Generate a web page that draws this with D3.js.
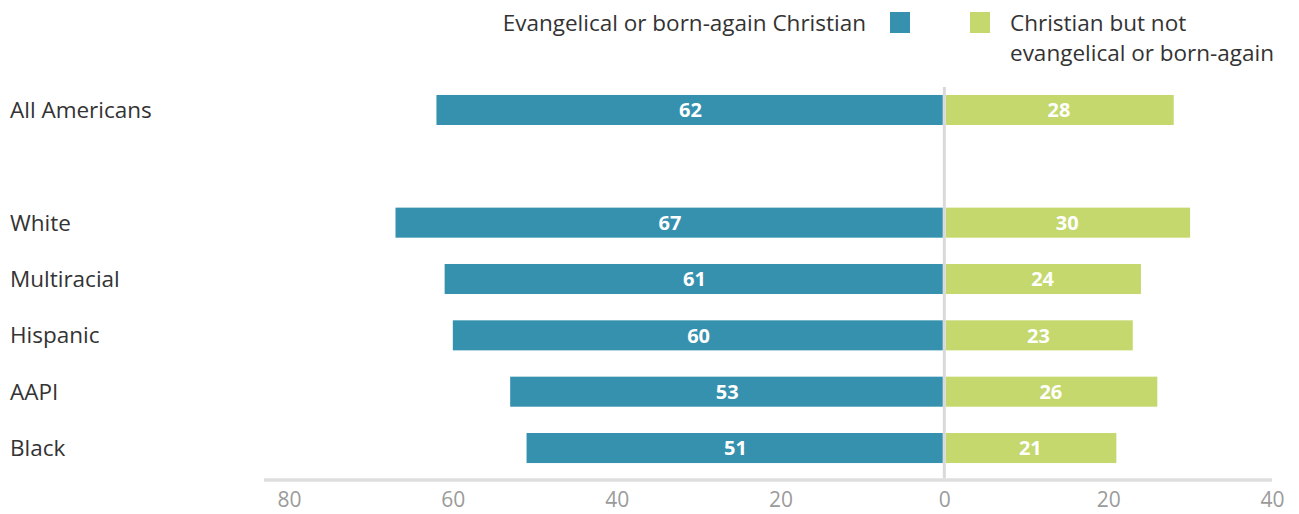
<!DOCTYPE html>
<html>
<head>
<meta charset="utf-8">
<script src="https://cdn.jsdelivr.net/npm/d3@7"></script>
<style>
  html, body { margin: 0; padding: 0; background: #fff; }
  svg { display: block; font-family: "Open Sans", sans-serif; }
</style>
</head>
<body>
<svg id="chart" width="1299" height="514"></svg>
<script>
// Rows, top to bottom; an empty slot separates the overall row from the groups
const groups = ["All Americans", "", "White", "Multiracial", "Hispanic", "AAPI", "Black"];
const evangelical = [62, null, 67, 61, 60, 53, 51];
const nonEvangelical = [28, null, 30, 24, 23, 26, 21];
const tickValues = [-80, -60, -40, -20, 0, 20, 40];
const seriesNames = ["Evangelical or born-again Christian", "Christian but not evangelical or born-again"];

const blue = "#3591ae";
const green = "#c4d86d";

const svg = d3.select("#chart");

const x = d3.scaleLinear().domain([-80, 40]).range([289, 1272]);
const y = d3.scaleBand().domain(groups).range([81.8, 476.2]).paddingInner(0.467).paddingOuter(0.2335);

const rows = groups.map((g, i) => ({ g, e: evangelical[i], n: nonEvangelical[i] })).filter(d => d.g !== "");

// Axis baseline and ticks
svg.append("line")
  .attr("x1", 264).attr("x2", x(40))
  .attr("y1", 480).attr("y2", 480)
  .attr("stroke", "#dedede").attr("stroke-width", 3.5);

const axis = d3.axisBottom(x).tickValues(tickValues).tickFormat(d => Math.abs(d)).tickSize(0).tickPadding(0);
const ax = svg.append("g").attr("transform", "translate(0,492)").call(axis);
ax.select(".domain").remove();
ax.selectAll("text")
  .attr("dy", "0.71em")
  .attr("font-size", 21)
  .attr("font-family", "'Open Sans', sans-serif")
  .attr("font-weight", 400)
  .attr("fill", "#9b9b9b");

// Bars
const barG = svg.append("g");
barG.selectAll(".ev").data(rows).join("rect")
  .attr("x", d => x(-d.e))
  .attr("width", d => x(0) - 1.5 - x(-d.e))
  .attr("y", d => y(d.g))
  .attr("height", y.bandwidth())
  .attr("fill", blue);

barG.selectAll(".ne").data(rows).join("rect")
  .attr("x", x(0) + 1.5)
  .attr("width", d => x(d.n) - x(0) - 1.5)
  .attr("y", d => y(d.g))
  .attr("height", y.bandwidth())
  .attr("fill", green);

// Zero line
svg.append("line")
  .attr("x1", x(0)).attr("x2", x(0))
  .attr("y1", 87).attr("y2", 478)
  .attr("stroke", "#d9d9d9").attr("stroke-width", 3);

// Value labels
const lbl = svg.append("g").attr("font-size", 20).attr("font-weight", 700).attr("fill", "#fff").attr("text-anchor", "middle");
lbl.selectAll(".le").data(rows).join("text")
  .attr("x", d => (x(-d.e) + x(0)) / 2)
  .attr("y", d => y(d.g) + y.bandwidth() / 2)
  .attr("dy", "0.36em")
  .text(d => d.e);
lbl.selectAll(".ln").data(rows).join("text")
  .attr("x", d => (x(d.n) + x(0)) / 2)
  .attr("y", d => y(d.g) + y.bandwidth() / 2)
  .attr("dy", "0.36em")
  .text(d => d.n);

// Row labels
svg.append("g").selectAll("text").data(rows).join("text")
  .attr("x", 10)
  .attr("y", d => y(d.g) + y.bandwidth() / 2)
  .attr("dy", "0.36em")
  .attr("font-size", 22.5)
  .attr("fill", "#333")
  .text(d => d.g);

// Legend
const leg = svg.append("g").attr("font-size", 22.5).attr("fill", "#333");
leg.append("text").attr("x", 866).attr("y", 23).attr("dy", "0.36em").attr("text-anchor", "end").text(seriesNames[0]);
leg.append("rect").attr("x", 890).attr("y", 12).attr("width", 20).attr("height", 21).attr("fill", blue);
leg.append("rect").attr("x", 970).attr("y", 12).attr("width", 20).attr("height", 21).attr("fill", green);
const t2 = leg.append("text").attr("x", 1010).attr("y", 23).attr("dy", "0.36em");
t2.append("tspan").attr("x", 1010).text("Christian but not");
t2.append("tspan").attr("x", 1010).attr("dy", 30).text("evangelical or born-again");
</script>
</body>
</html>
